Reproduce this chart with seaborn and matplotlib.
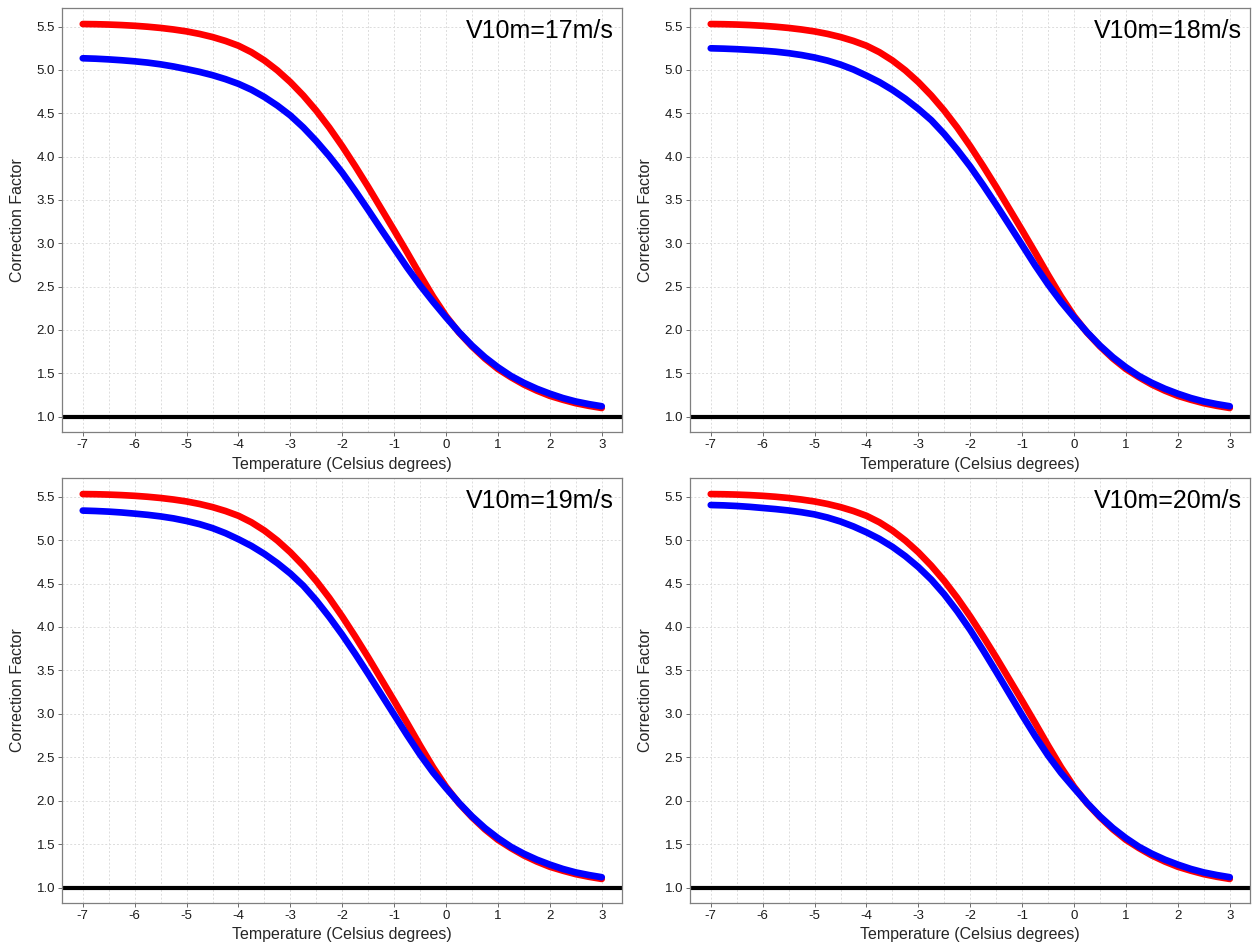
import matplotlib
matplotlib.use("Agg")
import matplotlib.pyplot as plt
import pandas as pd
import seaborn as sns
from matplotlib.ticker import MultipleLocator

# values (0.25 degree steps)
temperature = [-7.0, -6.75, -6.5, -6.25, -6.0, -5.75, -5.5, -5.25, -5.0, -4.75,
               -4.5, -4.25, -4.0, -3.75, -3.5, -3.25, -3.0, -2.75, -2.5, -2.25,
               -2.0, -1.75, -1.5, -1.25, -1.0, -0.75, -0.5, -0.25, 0.0, 0.25,
               0.5, 0.75, 1.0, 1.25, 1.5, 1.75, 2.0, 2.25, 2.5, 2.75, 3.0]

red_factor = [5.530, 5.528, 5.524, 5.518, 5.510, 5.499, 5.485, 5.467, 5.445, 5.416,
              5.380, 5.335, 5.280, 5.205, 5.110, 4.995, 4.860, 4.705, 4.530, 4.335,
              4.120, 3.890, 3.650, 3.400, 3.150, 2.895, 2.635, 2.385, 2.160, 1.970,
              1.810, 1.670, 1.550, 1.455, 1.370, 1.300, 1.240, 1.195, 1.155, 1.125, 1.100]

blue_17 = [5.135, 5.130, 5.122, 5.112, 5.100, 5.085, 5.065, 5.040, 5.010, 4.978,
           4.940, 4.894, 4.840, 4.772, 4.688, 4.589, 4.475, 4.337, 4.179, 4.005,
           3.815, 3.605, 3.385, 3.160, 2.940, 2.720, 2.515, 2.325, 2.145, 1.975,
           1.820, 1.685, 1.570, 1.470, 1.390, 1.322, 1.265, 1.215, 1.175, 1.145, 1.120]
blue_18 = [5.250, 5.246, 5.240, 5.232, 5.223, 5.211, 5.194, 5.172, 5.144, 5.108,
           5.062, 5.005, 4.935, 4.860, 4.770, 4.667, 4.550, 4.420, 4.260, 4.080,
           3.885, 3.670, 3.445, 3.213, 2.980, 2.745, 2.525, 2.325, 2.145, 1.975,
           1.820, 1.685, 1.570, 1.470, 1.390, 1.322, 1.265, 1.215, 1.175, 1.145, 1.120]
blue_19 = [5.340, 5.335, 5.328, 5.318, 5.305, 5.291, 5.273, 5.250, 5.220, 5.184,
           5.138, 5.080, 5.010, 4.933, 4.841, 4.735, 4.615, 4.475, 4.305, 4.115,
           3.910, 3.690, 3.460, 3.225, 2.990, 2.755, 2.530, 2.325, 2.145, 1.975,
           1.820, 1.685, 1.570, 1.470, 1.390, 1.322, 1.265, 1.215, 1.175, 1.145, 1.120]
blue_20 = [5.404, 5.400, 5.393, 5.383, 5.370, 5.357, 5.341, 5.321, 5.296, 5.260,
           5.214, 5.157, 5.090, 5.014, 4.923, 4.815, 4.690, 4.545, 4.375, 4.180,
           3.965, 3.730, 3.485, 3.235, 2.985, 2.745, 2.520, 2.320, 2.145, 1.975,
           1.820, 1.685, 1.570, 1.470, 1.390, 1.322, 1.265, 1.215, 1.175, 1.145, 1.120]

panel_titles = ["V10m=17m/s", "V10m=18m/s", "V10m=19m/s", "V10m=20m/s"]
blue_series = [blue_17, blue_18, blue_19, blue_20]

sns.set_theme(style="white")
plt.rcParams["font.family"] = ["Liberation Sans", "DejaVu Sans"]
plt.rcParams["axes.unicode_minus"] = False

fig = plt.figure(figsize=(12.57, 9.48), dpi=100)

W, H = 1257, 948
boxes = [(62, 8, 622, 432), (690, 8, 1250, 432),
         (62, 478, 622, 903), (690, 478, 1250, 903)]

for (x0, y0, x1, y1), title, blue in zip(boxes, panel_titles, blue_series):
    ax = fig.add_axes([x0 / W, 1 - y1 / H, (x1 - x0) / W, (y1 - y0) / H])
    df = pd.DataFrame({
        "Temperature": temperature * 2,
        "Factor": red_factor + blue,
        "Series": ["red"] * len(temperature) + ["blue"] * len(temperature),
    })
    sns.lineplot(data=df, x="Temperature", y="Factor", hue="Series",
                 hue_order=["red", "blue"],
                 palette={"red": "#FF0000", "blue": "#0000FF"},
                 linewidth=4.8, solid_capstyle="round", solid_joinstyle="round",
                 legend=False, ax=ax, zorder=3)
    ax.axhline(1.0, color="black", linewidth=3, zorder=2)

    ax.set_xlim(-7.4, 3.39)
    ax.set_ylim(0.823, 5.715)
    ax.xaxis.set_major_locator(MultipleLocator(1))
    ax.xaxis.set_minor_locator(MultipleLocator(0.5))
    ax.yaxis.set_major_locator(MultipleLocator(0.5))
    ax.yaxis.set_major_formatter(plt.FormatStrFormatter("%.1f"))

    ax.set_axisbelow(True)
    ax.grid(which="major", color="#dcdcdc", linestyle=(0, (2, 2)), linewidth=0.7)
    ax.grid(which="minor", axis="x", color="#dcdcdc", linestyle=(0, (2, 2)), linewidth=0.7)

    ax.tick_params(which="major", direction="out", length=3, width=0.6,
                   color="#555555", labelsize=9.5, labelcolor="#1a1a1a", pad=2,
                   left=True, bottom=True)
    ax.tick_params(which="minor", length=0)
    for spine in ax.spines.values():
        spine.set_color("#7f7f7f")
        spine.set_linewidth(0.9)

    ax.set_xlabel("Temperature (Celsius degrees)", fontsize=11.5, labelpad=4)
    ax.set_ylabel("Correction Factor", fontsize=11.5, labelpad=8)
    ax.text(0.985, 0.945, title, transform=ax.transAxes, ha="right", va="center",
            fontsize=18, color="black")

fig.savefig("out.png", dpi=100)
